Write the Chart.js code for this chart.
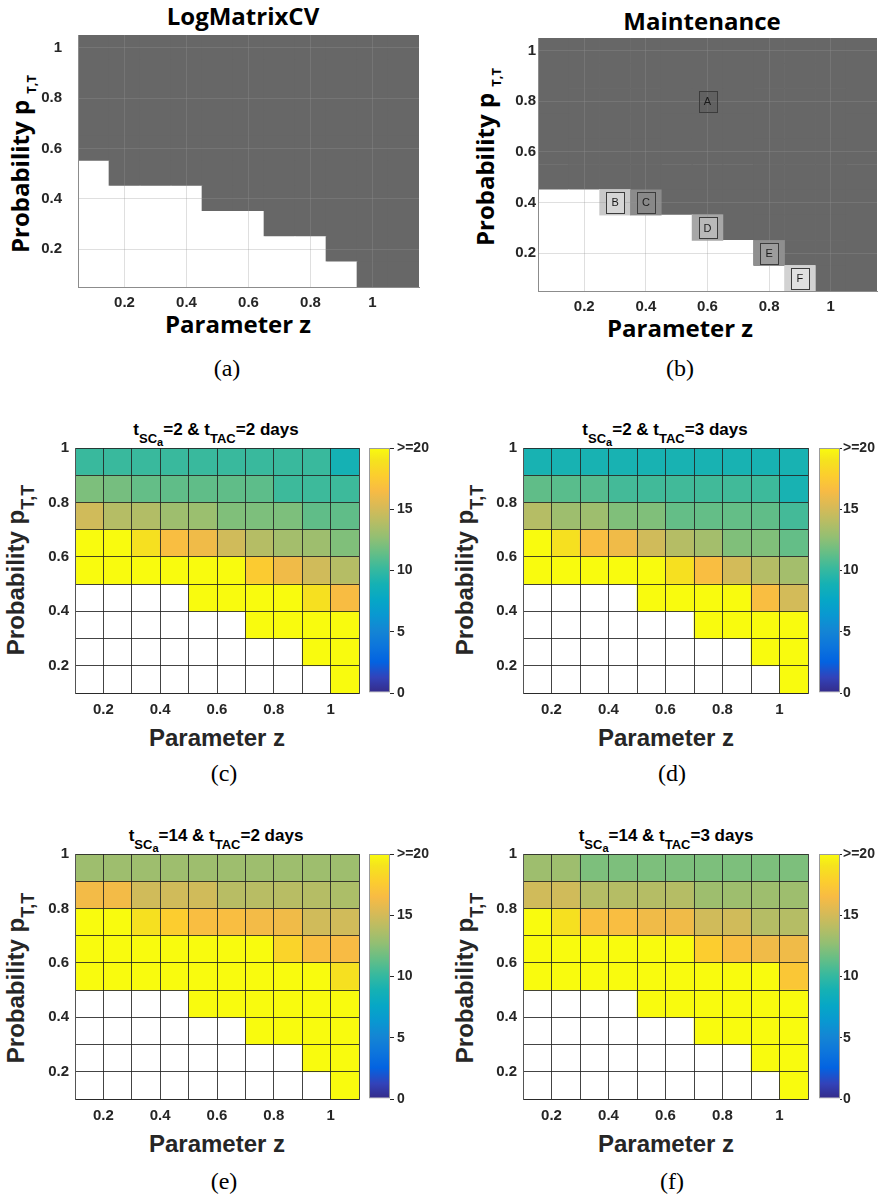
<!DOCTYPE html>
<html><head><meta charset="utf-8"><title>Figure</title>
<script src="https://cdn.jsdelivr.net/npm/chart.js@4/dist/chart.umd.min.js"></script>
<style>
html,body{margin:0;padding:0;background:#fff;}
body{width:878px;height:1200px;position:relative;overflow:hidden;}
canvas{position:absolute;}
.t{position:absolute;white-space:nowrap;color:#000;}
.ob{font-family:"Open Sans",sans-serif;font-weight:700;font-size:24px;line-height:24px;transform:translate(-50%,-50%);}
.ab{font-family:"Liberation Sans",Arial,sans-serif;font-weight:700;font-size:24px;line-height:24px;color:#262626;transform:translate(-50%,-50%);}
.yl{transform:translate(-50%,-50%) rotate(-90deg);}
.cap{font-family:"Liberation Serif","Times New Roman",serif;font-size:24px;line-height:24px;transform:translate(-50%,-50%);}
.ttl{font-family:"Liberation Sans",Arial,sans-serif;font-weight:700;font-size:17px;line-height:17px;color:#000;transform:translateX(-50%);}
.s1{font-size:13px;position:relative;top:8px;}
.s2{font-size:11px;position:relative;top:3px;}
.sb{position:relative;}
</style></head>
<body>
<div class="t ob" style="left:243px;top:16px">LogMatrixCV</div>
<div class="t ob" style="left:702px;top:21px">Maintenance</div>
<div class="t ob yl" style="left:22px;top:164px">Probability p <span class="sb" style="font-size:13px;top:7px">T,T</span></div>
<div class="t ob yl" style="left:487px;top:157px">Probability p <span class="sb" style="font-size:13px;top:7px">T,T</span></div>
<div class="t ob" style="left:238px;top:324px">Parameter z</div>
<div class="t ob" style="left:680px;top:328px">Parameter z</div>
<div class="t cap" style="left:227px;top:368px">(a)</div>
<div class="t cap" style="left:680px;top:368px">(b)</div>

<div class="t ttl" style="left:216px;top:421px">t<span class="s1">SC<span class="s2">a</span></span>=2 &amp; t<span class="s1">TAC</span>=2 days</div>
<div class="t ttl" style="left:665px;top:421px">t<span class="s1">SC<span class="s2">a</span></span>=2 &amp; t<span class="s1">TAC</span>=3 days</div>
<div class="t ttl" style="left:216px;top:827px">t<span class="s1">SC<span class="s2">a</span></span>=14 &amp; t<span class="s1">TAC</span>=2 days</div>
<div class="t ttl" style="left:666px;top:827px">t<span class="s1">SC<span class="s2">a</span></span>=14 &amp; t<span class="s1">TAC</span>=3 days</div>

<div class="t ab yl" style="left:17px;top:570px">Probability p<span class="sb" style="font-size:18px;top:10px">T,T</span></div>
<div class="t ab yl" style="left:466px;top:570px">Probability p<span class="sb" style="font-size:18px;top:10px">T,T</span></div>
<div class="t ab yl" style="left:17px;top:978px">Probability p<span class="sb" style="font-size:18px;top:10px">T,T</span></div>
<div class="t ab yl" style="left:466px;top:978px">Probability p<span class="sb" style="font-size:18px;top:10px">T,T</span></div>

<div class="t ab" style="left:217px;top:738px">Parameter z</div>
<div class="t ab" style="left:666px;top:738px">Parameter z</div>
<div class="t ab" style="left:217px;top:1144px">Parameter z</div>
<div class="t ab" style="left:666px;top:1144px">Parameter z</div>

<div class="t cap" style="left:224px;top:773px">(c)</div>
<div class="t cap" style="left:672px;top:773px">(d)</div>
<div class="t cap" style="left:224px;top:1181px">(e)</div>
<div class="t cap" style="left:672px;top:1181px">(f)</div>

<script>
// ---------------- DATA ----------------
// Panels (a),(b): cell centres
const zAB = [0.1,0.2,0.3,0.4,0.5,0.6,0.7,0.8,0.9,1.0,1.1];
const pAB = [1.0,0.9,0.8,0.7,0.6,0.5,0.4,0.3,0.2,0.1];      // rows top -> bottom
const tickAB = [0.2,0.4,0.6,0.8,1];
// 1 = grey region, 0 = white region
const logMatrixCV = [
  [1,1,1,1,1,1,1,1,1,1,1],
  [1,1,1,1,1,1,1,1,1,1,1],
  [1,1,1,1,1,1,1,1,1,1,1],
  [1,1,1,1,1,1,1,1,1,1,1],
  [1,1,1,1,1,1,1,1,1,1,1],
  [0,1,1,1,1,1,1,1,1,1,1],
  [0,0,0,0,1,1,1,1,1,1,1],
  [0,0,0,0,0,0,1,1,1,1,1],
  [0,0,0,0,0,0,0,0,1,1,1],
  [0,0,0,0,0,0,0,0,0,1,1]
];
const maintenance = [
  [1,1,1,1,1,1,1,1,1,1,1],
  [1,1,1,1,1,1,1,1,1,1,1],
  [1,1,1,1,1,1,1,1,1,1,1],
  [1,1,1,1,1,1,1,1,1,1,1],
  [1,1,1,1,1,1,1,1,1,1,1],
  [1,1,1,1,1,1,1,1,1,1,1],
  [0,0,0,1,1,1,1,1,1,1,1],
  [0,0,0,0,0,0,1,1,1,1,1],
  [0,0,0,0,0,0,0,1,1,1,1],
  [0,0,0,0,0,0,0,0,0,1,1]
];
const markerLabels = ['A','B','C','D','E','F'];
const markerZ = [0.6,0.3,0.4,0.6,0.8,0.9];
const markerP = [0.8,0.4,0.4,0.3,0.2,0.1];

// Panels (c)-(f): cell edges
const zEdges = [0.1,0.2,0.3,0.4,0.5,0.6,0.7,0.8,0.9,1.0,1.1];
const pEdges = [0.1,0.2,0.3,0.4,0.5,0.6,0.7,0.8,0.9,1.0];
const tickCD = [0.2,0.4,0.6,0.8,1];
// rows top (p 0.9-1.0) -> bottom (p 0.1-0.2); null = no value (white)
const daysC = [
  [10.2,10.2,10.2,10.2,10.2,10.2,10.2,10.2,10.2,8.9],
  [12.1,11.9,11.4,11.3,11.3,11.3,11.2,10.3,10.3,10.3],
  [14.9,13.9,13.8,13.1,13.0,12.2,12.1,12.1,11.3,11.3],
  [20,20,18.8,16.7,16.2,14.9,13.9,13.3,13.1,12.2],
  [20,20,20,20,20,20,17.6,16.2,14.9,13.9],
  [null,null,null,null,20,20,20,20,18.8,16.6],
  [null,null,null,null,null,null,20,20,20,20],
  [null,null,null,null,null,null,null,null,20,20],
  [null,null,null,null,null,null,null,null,null,20]
];
const daysD = [
  [9.0,9.0,9.0,9.0,9.0,9.0,9.0,9.0,9.0,9.0],
  [11.3,11.1,11.0,10.5,10.4,10.4,10.4,10.4,10.3,9.0],
  [13.9,13.1,13.1,12.2,12.2,11.4,11.4,11.4,11.3,10.5],
  [20,18.8,16.7,16.2,14.9,13.9,13.3,12.2,12.2,11.4],
  [20,20,20,20,20,18.8,16.7,15.0,13.9,13.3],
  [null,null,null,null,20,20,20,20,16.7,15.0],
  [null,null,null,null,null,null,20,20,20,20],
  [null,null,null,null,null,null,null,null,20,20],
  [null,null,null,null,null,null,null,null,null,20]
];
const daysE = [
  [13.1,13.1,13.1,13.1,13.1,13.1,13.1,13.1,13.1,13.1],
  [16.3,16.3,14.9,14.9,14.9,14.0,14.0,14.0,13.9,13.6],
  [20,20,18.8,17.7,16.7,16.7,16.3,16.2,14.9,14.9],
  [20,20,20,20,20,20,20,18.1,16.7,16.5],
  [20,20,20,20,20,20,20,20,20,18.8],
  [null,null,null,null,20,20,20,20,20,20],
  [null,null,null,null,null,null,20,20,20,20],
  [null,null,null,null,null,null,null,null,20,20],
  [null,null,null,null,null,null,null,null,null,20]
];
const daysF = [
  [13.1,13.1,12.1,12.1,12.1,12.1,12.1,12.1,12.1,12.1],
  [14.9,14.9,13.9,13.9,13.9,13.9,13.1,13.1,13.1,13.1],
  [20,18.8,16.8,16.7,16.2,16.2,14.9,14.9,13.9,13.9],
  [20,20,20,20,20,20,17.7,16.7,16.2,16.2],
  [20,20,20,20,20,20,20,20,20,17.3],
  [null,null,null,null,20,20,20,20,20,20],
  [null,null,null,null,null,null,20,20,20,20],
  [null,null,null,null,null,null,null,null,20,20],
  [null,null,null,null,null,null,null,null,null,20]
];
const cbMax = 20;
const cbTicks = [0,5,10,15,20];
const cbTickLabels = ['0','5','10','15','>=20'];

// ---------------- STYLE ----------------
const FONT = '"Liberation Sans", Arial, sans-serif';
const DARK = '#676767';
const markerCellShade = [null,'#c9c9c9','#8b8b8b','#a7a7a7','#8f8f8f','#d2d2d2'];
const markerBoxShade = ['rgba(80,80,80,0.25)','#d6d6d6','#888888','#b9b9b9','#9c9c9c','#e0e0e0'];
const parulaStops = [
 [0/63,[53,42,135]],[4/63,[50,67,186]],[8/63,[3,99,225]],[12/63,[13,117,220]],
 [16/63,[20,133,212]],[20/63,[9,152,209]],[24/63,[6,167,198]],[28/63,[21,177,180]],
 [32/63,[56,185,158]],[36/63,[101,190,134]],[40/63,[146,191,115]],[44/63,[183,189,100]],
 [48/63,[217,186,86]],[52/63,[248,187,68]],[56/63,[252,206,46]],[60/63,[245,228,29]],
 [63/63,[249,251,14]]
];
function parula(v){
  let t = Math.max(0, Math.min(1, v / cbMax));
  for (let i = 1; i < parulaStops.length; i++){
    const [t1,c1] = parulaStops[i], [t0,c0] = parulaStops[i-1];
    if (t <= t1){
      const f = (t - t0) / (t1 - t0);
      return 'rgb(' + c0.map((c,k)=>Math.round(c + (c1[k]-c)*f)).join(',') + ')';
    }
  }
  return 'rgb(249,251,14)';
}

// ---------------- HELPERS ----------------
function addCanvas(left, top, w, h){
  const c = document.createElement('canvas');
  c.width = w; c.height = h;
  c.style.left = left + 'px'; c.style.top = top + 'px';
  c.style.width = w + 'px'; c.style.height = h + 'px';
  document.body.appendChild(c);
  return c;
}
function tickCb(labelVals){
  return (v) => { const k = labelVals.findIndex(t => Math.abs(t - v) < 1e-6); return k < 0 ? '' : String(labelVals[k]); };
}
function cellsAB(mat){
  const hz = (zAB[1]-zAB[0])/2, hp = (pAB[0]-pAB[1])/2, out = [];
  pAB.forEach((p,r) => zAB.forEach((z,c) => out.push({x:z, y:[p-hp, p+hp], color: mat[r][c] ? DARK : '#ffffff'})));
  return out;
}
function cellsCD(mat){
  const out = [], n = pEdges.length;
  mat.forEach((row, r) => row.forEach((v, c) => {
    if (v === null) return;
    out.push({x:(zEdges[c]+zEdges[c+1])/2, y:[pEdges[n-2-r], pEdges[n-1-r]], color: parula(v)});
  }));
  return out;
}
function fixX(h){ return s => { s.height = h; s.paddingLeft = 0; s.paddingRight = 0; s.paddingTop = 0; s.paddingBottom = 0; }; }
function fixY(w){ return s => { s.width = w; s.paddingLeft = 0; s.paddingRight = 0; s.paddingTop = 0; s.paddingBottom = 0; }; }
function heatChart(o){
  const left = o.L - o.yW, top = o.T - o.padTop;
  const cv = addCanvas(left, top, o.R - left + o.padRight, o.B - top + o.xH);
  const datasets = [];
  if (o.overlay) datasets.push({data:o.overlay.map(c=>({x:c.x,y:c.y})), backgroundColor:o.overlay.map(c=>c.color),
      order:0, grouped:false, barPercentage:1, categoryPercentage:1, borderWidth:0});
  datasets.push({data:o.cells.map(c=>({x:c.x,y:c.y})), backgroundColor:o.cells.map(c=>c.color),
      order:1, grouped:false, barPercentage:1, categoryPercentage:1, borderWidth:0});
  const tickFont = {family:FONT, size:15, weight:'bold'};
  return new Chart(cv, {type:'bar', data:{datasets},
    options:{responsive:false, animation:false, devicePixelRatio:1, events:[],
      layout:{autoPadding:false, padding:{top:o.padTop, right:o.padRight, left:0, bottom:0}},
      plugins:{legend:{display:false}, tooltip:{enabled:false}},
      scales:{
        x:{type:'linear', min:o.xMin, max:o.xMax, offset:false,
           grid:{offset:false, color:o.gridColor, lineWidth:o.gridWidth, drawTicks:false, z:1},
           border:{color:o.borderColor, width:1, z:1},
           ticks:{font:tickFont, color:'#262626', padding:o.xPad, maxRotation:0, autoSkip:false, callback:tickCb(o.xLabels)},
           afterBuildTicks:s=>{s.ticks = o.xTicks.map(v=>({value:v}));},
           afterFit:fixX(o.xH)},
        y:{type:'linear', min:o.yMin, max:o.yMax,
           grid:{color:o.gridColor, lineWidth:o.gridWidth, drawTicks:false, z:1},
           border:{color:o.borderColor, width:1, z:1},
           ticks:{font:tickFont, color:'#262626', padding:o.yPad, autoSkip:false, callback:tickCb(o.yLabels)},
           afterBuildTicks:s=>{s.ticks = o.yTicks.map(v=>({value:v}));},
           afterFit:fixY(o.yW)}
      }},
    plugins:o.plugins || []});
}
function colorbar(o){
  const cv = addCanvas(o.CL, o.T - 12, o.CR - o.CL + o.labelW, o.B - o.T + 24);
  return new Chart(cv, {type:'bar',
    data:{labels:[''], datasets:[{data:[[0,cbMax]],
      backgroundColor:(ctx)=>{
        const ch = ctx.chart, y = ch.scales.y;
        if (!ch.chartArea || !y) return '#888';
        const g = ch.ctx.createLinearGradient(0, y.getPixelForValue(0), 0, y.getPixelForValue(cbMax));
        parulaStops.forEach(([t,c]) => g.addColorStop(t, 'rgb(' + c.join(',') + ')'));
        return g;
      },
      borderWidth:1, borderColor:'#9c9c9c', borderSkipped:false, barPercentage:1, categoryPercentage:1, inflateAmount:0}]},
    options:{responsive:false, animation:false, devicePixelRatio:1, events:[],
      layout:{autoPadding:false, padding:{top:12, bottom:12, left:0, right:0}},
      plugins:{legend:{display:false}, tooltip:{enabled:false}},
      scales:{
        x:{display:false},
        y:{position:'right', min:0, max:cbMax,
           grid:{drawOnChartArea:false, drawTicks:true, tickLength:o.tl, color:'#262626'},
           border:{display:false},
           ticks:{font:{family:FONT, size:14, weight:'bold'}, color:'#262626', padding:o.pad,
             callback:(v)=>{const k = cbTicks.indexOf(v); return k < 0 ? '' : cbTickLabels[k];}},
           afterBuildTicks:s=>{s.ticks = cbTicks.map(v=>({value:v}));},
           afterFit:fixY(o.labelW)}
      }}});
}
const markerPlugin = {id:'markerBoxes', afterDraw(chart){
  const ctx = chart.ctx, x = chart.scales.x, y = chart.scales.y;
  ctx.save();
  markerLabels.forEach((lab, i) => {
    const cx = x.getPixelForValue(markerZ[i]), cy = y.getPixelForValue(markerP[i]);
    const w = 18, h = 21, l = Math.round(cx - w/2) + 0.5, t = Math.round(cy - h/2) + 0.5;
    ctx.fillStyle = markerBoxShade[i]; ctx.fillRect(l, t, w, h);
    ctx.strokeStyle = '#3c3c3c'; ctx.lineWidth = 1; ctx.strokeRect(l, t, w, h);
    ctx.fillStyle = '#1a1a1a'; ctx.font = '11px ' + FONT; ctx.textAlign = 'center'; ctx.textBaseline = 'middle';
    ctx.fillText(lab, cx, cy + 1);
  });
  ctx.restore();
}};

// ---------------- PANELS ----------------
const gridAB = 'rgba(150,150,150,0.3)';
heatChart({L:78, T:35, R:419, B:287, yW:78, xH:35, padTop:12, padRight:6,
  xMin:0.05, xMax:1.15, yMin:0.05, yMax:1.05, xTicks:tickAB, yTicks:tickAB, xLabels:tickAB, yLabels:tickAB,
  cells:cellsAB(logMatrixCV), gridColor:gridAB, gridWidth:1, borderColor:'#8c8c8c', xPad:7, yPad:16});
const overlayB = [];
markerLabels.forEach((l,i)=>{ if (markerCellShade[i]) overlayB.push({x:markerZ[i], y:[markerP[i]-0.05, markerP[i]+0.05], color:markerCellShade[i]}); });
heatChart({L:538, T:38, R:877, B:291, yW:50, xH:35, padTop:12, padRight:1,
  xMin:0.05, xMax:1.15, yMin:0.05, yMax:1.05, xTicks:tickAB, yTicks:tickAB, xLabels:tickAB, yLabels:tickAB,
  cells:cellsAB(maintenance), overlay:overlayB, gridColor:gridAB, gridWidth:1, borderColor:'#8c8c8c', xPad:7, yPad:2,
  plugins:[markerPlugin]});

const gridCD = 'rgba(35,35,35,0.85)';
function panelCD(mat, L, T, R, B, CL, CR, labelW, tl, pad){
  heatChart({L, T, R, B, yW:70, xH:30, padTop:12, padRight:4,
    xMin:zEdges[0], xMax:zEdges[zEdges.length-1], yMin:pEdges[0], yMax:pEdges[pEdges.length-1],
    xTicks:zEdges, yTicks:pEdges, xLabels:tickCD, yLabels:tickCD,
    cells:cellsCD(mat), gridColor:gridCD, gridWidth:1, borderColor:'#555555', xPad:8, yPad:6});
  colorbar({CL, CR, T, B, labelW, tl, pad});
}
panelCD(daysC, 75, 448, 359, 693, 369, 390, 45, 4, 3);
panelCD(daysD, 523, 448, 808, 693, 819, 840, 38, 2, 1);
panelCD(daysE, 75, 854, 359, 1099, 369, 390, 45, 4, 3);
panelCD(daysF, 523, 854, 808, 1099, 819, 840, 38, 2, 1);
</script>
</body></html>
